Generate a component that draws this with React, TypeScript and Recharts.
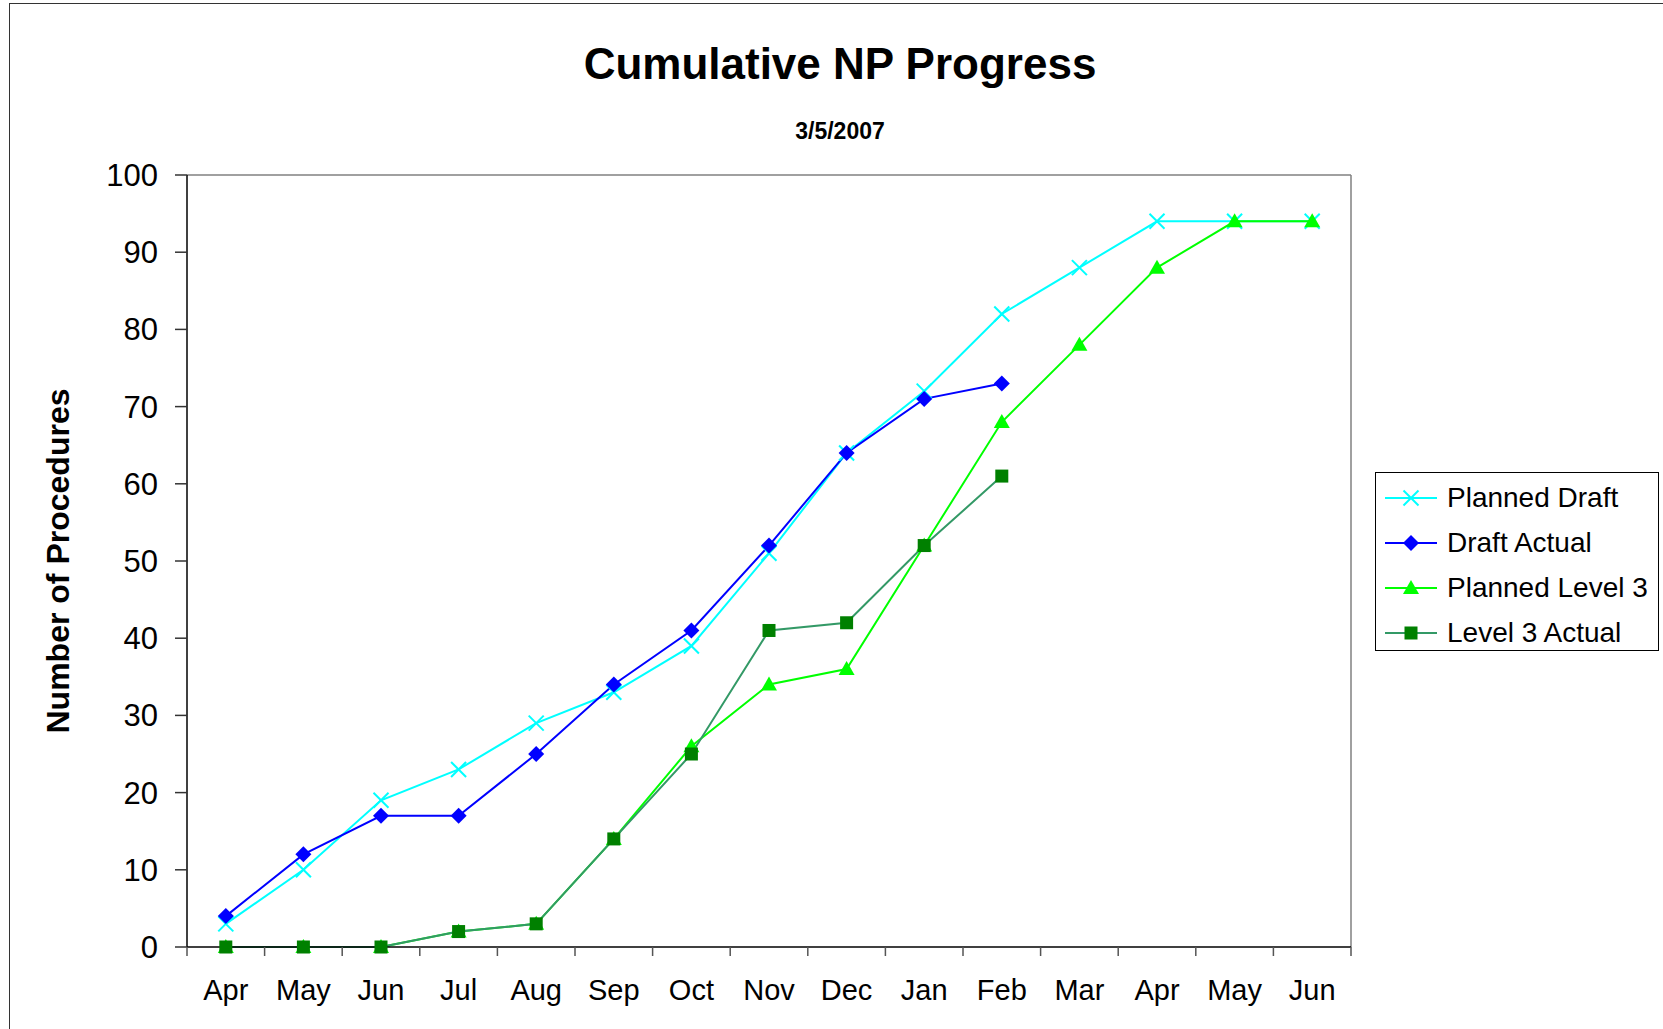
import { LineChart, Line, XAxis, YAxis, Legend } from "recharts"

const months = ["Apr", "May", "Jun", "Jul", "Aug", "Sep", "Oct", "Nov", "Dec", "Jan", "Feb", "Mar", "Apr", "May", "Jun"]
const plannedDraft = [3, 10, 19, 23, 29, 33, 39, 51, 64, 72, 82, 88, 94, 94, 94]
const draftActual = [4, 12, 17, 17, 25, 34, 41, 52, 64, 71, 73, null, null, null, null]
const plannedLevel3 = [0, 0, 0, 2, 3, 14, 26, 34, 36, 52, 68, 78, 88, 94, 94]
const level3Actual = [0, 0, 0, 2, 3, 14, 25, 41, 42, 52, 61, null, null, null, null]
const yTicks = [0, 10, 20, 30, 40, 50, 60, 70, 80, 90, 100]

const data = months.map((m, i) => ({
    period: `${m}-${i}`,
    plannedDraft: plannedDraft[i],
    draftActual: draftActual[i],
    plannedLevel3: plannedLevel3[i],
    level3Actual: level3Actual[i],
}))

const W = 1663
const H = 1029
const PLOT = { left: 187, right: 1351, top: 175, bottom: 947 }
const Y_AXIS_W = 100
const X_AXIS_H = 60
const FRAME = 2 // size of the hidden top/right axes that draw the plot frame
const HALF = (PLOT.right - PLOT.left) / months.length / 2
const FONT = '"Liberation Sans", Arial, sans-serif'

// marker shapes
function drawMarker(kind: string, cx: number, cy: number, key?: any) {
    if (kind === "cross") {
        const s = 7.5
        return (
            <g key={key}>
                <line x1={cx - s} y1={cy - s} x2={cx + s} y2={cy + s} stroke="#00FFFF" strokeWidth={2} />
                <line x1={cx - s} y1={cy + s} x2={cx + s} y2={cy - s} stroke="#00FFFF" strokeWidth={2} />
            </g>
        )
    }
    if (kind === "diamond") {
        const s = 8
        return <polygon key={key} points={`${cx},${cy - s} ${cx + s},${cy} ${cx},${cy + s} ${cx - s},${cy}`} fill="#0000FF" />
    }
    if (kind === "triangle") {
        const s = 8
        return <polygon key={key} points={`${cx},${cy - s} ${cx + s},${cy + s * 0.75} ${cx - s},${cy + s * 0.75}`} fill="#00FF00" />
    }
    const s = 6.5
    return <rect key={key} x={cx - s} y={cy - s} width={s * 2} height={s * 2} fill="#008000" />
}

const makeDot = (kind: string) => (props: any) => {
    const { cx, cy, value, index } = props
    if (value == null || cy == null || isNaN(cy)) return <g key={index} />
    return drawMarker(kind, cx, cy, index)
}

const series = [
    { key: "plannedDraft", name: "Planned Draft", stroke: "#00FFFF", marker: "cross" },
    { key: "draftActual", name: "Draft Actual", stroke: "#0000FF", marker: "diamond" },
    { key: "plannedLevel3", name: "Planned Level 3", stroke: "#00FF00", marker: "triangle" },
    { key: "level3Actual", name: "Level 3 Actual", stroke: "#339966", marker: "square" },
]

const XTick = (props: any) => {
    const { x, index } = props
    const last = index === months.length - 1
    return (
        <g>
            <line x1={x - HALF} y1={PLOT.bottom} x2={x - HALF} y2={PLOT.bottom + 9} stroke="#555" strokeWidth={1.5} />
            {last && <line x1={x + HALF} y1={PLOT.bottom} x2={x + HALF} y2={PLOT.bottom + 9} stroke="#555" strokeWidth={1.5} />}
            <text x={x} y={990} textAnchor="middle" dominantBaseline="central" fontSize={29} fill="#000">
                {months[index]}
            </text>
        </g>
    )
}

const LegendBox = () => (
    <div
        style={{
            border: "1.5px solid #000",
            background: "#fff",
            width: 284,
            height: 179,
            boxSizing: "border-box",
            paddingTop: 2,
            fontFamily: FONT,
        }}
    >
        {series.map((s) => (
            <div key={s.key} style={{ height: 45, display: "flex", alignItems: "center" }}>
                <svg width={62} height={24} style={{ marginLeft: 9, flex: "none" }}>
                    <line x1={0} y1={12} x2={52} y2={12} stroke={s.stroke} strokeWidth={2} />
                    {drawMarker(s.marker, 26, 12)}
                </svg>
                <span style={{ fontSize: 28, color: "#000", whiteSpace: "nowrap" }}>{s.name}</span>
            </div>
        ))}
    </div>
)

export default function App() {
    return (
        <div style={{ position: "absolute", left: 0, top: 0, width: W, height: H, overflow: "hidden", background: "#fff", fontFamily: FONT }}>
            <div style={{ position: "absolute", left: 9, top: 3, width: W + 20, height: H + 20, borderLeft: "1.5px solid #333", borderTop: "1.5px solid #333" }} />
            <div style={{ position: "absolute", left: 840, top: 64, transform: "translate(-50%, -50%)", fontSize: 44, fontWeight: "bold", lineHeight: 1, whiteSpace: "nowrap" }}>
                Cumulative NP Progress
            </div>
            <div style={{ position: "absolute", left: 840, top: 131, transform: "translate(-50%, -50%)", fontSize: 23, fontWeight: "bold", lineHeight: 1, whiteSpace: "nowrap" }}>
                3/5/2007
            </div>
            <div style={{ position: "absolute", left: 58, top: 561, transform: "translate(-50%, -50%) rotate(-90deg)", fontSize: 32, fontWeight: "bold", lineHeight: 1, whiteSpace: "nowrap" }}>
                Number of Procedures
            </div>
            <LineChart
                width={W}
                height={H}
                data={data}
                margin={{
                    top: PLOT.top - FRAME,
                    right: W - PLOT.right - FRAME,
                    bottom: H - PLOT.bottom - X_AXIS_H,
                    left: PLOT.left - Y_AXIS_W,
                }}
                style={{ position: "absolute", left: 0, top: 0 }}
            >
                {/* plot frame: top and right edges */}
                <XAxis
                    xAxisId="top"
                    orientation="top"
                    dataKey="period"
                    height={FRAME}
                    tick={false}
                    tickLine={false}
                    axisLine={{ stroke: "#808080", strokeWidth: 1.5 }}
                />
                <YAxis
                    yAxisId="right"
                    orientation="right"
                    width={FRAME}
                    domain={[0, 100]}
                    tick={false}
                    tickLine={false}
                    axisLine={{ stroke: "#808080", strokeWidth: 1.5 }}
                />
                <XAxis
                    dataKey="period"
                    height={X_AXIS_H}
                    interval={0}
                    padding={{ left: HALF, right: HALF }}
                    tickLine={false}
                    axisLine={{ stroke: "#000", strokeWidth: 1.5 }}
                    tick={<XTick />}
                />
                <YAxis
                    width={Y_AXIS_W}
                    domain={[0, 100]}
                    ticks={yTicks}
                    interval={0}
                    tickSize={12}
                    tickMargin={17}
                    tick={{ fontSize: 31, fill: "#000" }}
                    tickLine={{ stroke: "#333", strokeWidth: 1.5 }}
                    axisLine={{ stroke: "#000", strokeWidth: 1.5 }}
                />
                <Legend
                    layout="horizontal"
                    align="center"
                    verticalAlign="middle"
                    content={<LegendBox />}
                    wrapperStyle={{ position: "absolute", left: 1375, top: 472, width: 284, height: 179 }}
                />
                {series.map((s) => (
                    <Line
                        key={s.key}
                        type="linear"
                        dataKey={s.key}
                        name={s.name}
                        stroke={s.stroke}
                        strokeWidth={2}
                        dot={makeDot(s.marker)}
                        activeDot={false}
                        connectNulls={false}
                        isAnimationActive={false}
                    />
                ))}
            </LineChart>
        </div>
    )
}
